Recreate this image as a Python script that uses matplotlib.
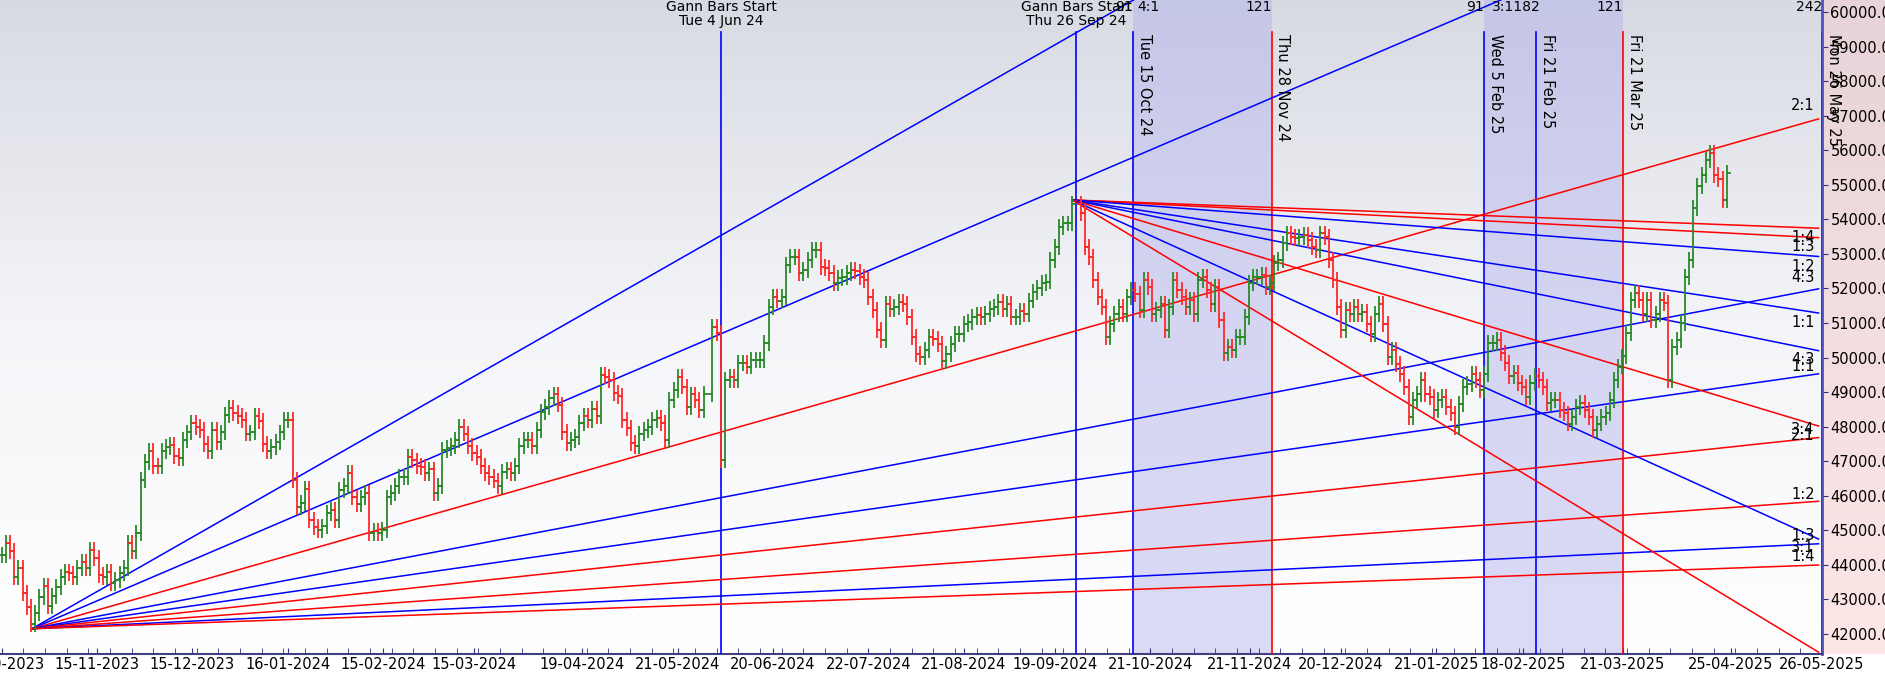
import numpy as np
import pandas as pd
import matplotlib
matplotlib.use("Agg")
import matplotlib.pyplot as plt
from matplotlib.colors import LinearSegmentedColormap
from matplotlib.patches import Rectangle
from matplotlib.ticker import MultipleLocator
import matplotlib.transforms as mtrans

# ---------------- data ----------------
seg_bounds = [("2023-10-16", "2024-01-24"), ("2024-01-25", "2024-05-29"),
              ("2024-05-31", "2024-09-25"), ("2024-09-27", "2025-02-07"),
              ("2025-02-10", "2025-04-24")]
seg1 = [44286, 44630, 44400, 43650, 43900, 43190, 42780, 42300, 42600, 43070, 43400, 42800, 43100, 43360,
        43650, 43800, 43750, 43650, 43900, 44080, 43900, 44430, 44200, 43700, 43650, 43800, 43470, 43560,
        43750, 43900, 44630, 44400, 44920, 46460, 46980, 47300, 46870, 46850, 47300, 47400, 47470, 47150,
        47100, 47620, 47830, 48100, 48000, 47900, 47500, 47300, 47900, 47550, 47830, 48330, 48540, 48400,
        48300, 48200, 47800, 47830, 48300, 48150, 47500, 47300, 47400, 47550, 47830, 48200, 48200, 46450,
        45680, 45800, 46200, 45300, 45100]
seg2 = [45010, 45110, 45500, 45600, 45300, 46170, 46270, 46660, 45950, 45770, 45950, 46080, 44920, 44970,
        44920, 45020, 45950, 46080, 46270, 46540, 46540, 47120, 47020, 46870, 46820, 46660, 46760, 46080,
        46270, 47330, 47380, 47430, 47620, 47990, 47800, 47430, 47230, 47120, 46870, 46660, 46540, 46440,
        46270, 46700, 46760, 46660, 46870, 47430, 47620, 47620, 47430, 47900, 48420, 48560, 48830, 48930,
        48640, 47850, 47520, 47620, 47710, 48110, 48300, 48200, 48500, 48300, 49500, 49450, 49350, 48980,
        48880, 48200, 47960, 47520, 47430, 47800, 47900, 48000, 48200, 48250, 48110, 47620, 48770, 49060,
        49450, 49160, 48560, 48930, 48770, 48480, 48950]
seg3 = [50880, 50700, 47030, 49350, 49440, 49350, 49840, 49840, 49740, 49940, 49940, 49940, 50420, 51460,
        51750, 51650, 51750, 52680, 52920, 52920, 52440, 52540, 52820, 53110, 53110, 52630, 52590, 52440,
        52150, 52300, 52340, 52440, 52540, 52490, 52340, 52250, 51750, 51380, 50790, 50500, 51560, 51410,
        51460, 51600, 51560, 51170, 50590, 50110, 50010, 50210, 50590, 50550, 50400, 49910, 50110, 50400,
        50690, 50690, 50980, 51020, 51170, 51220, 51170, 51270, 51410, 51460, 51600, 51410, 51560, 51170,
        51170, 51360, 51270, 51650, 51900, 52000, 52150, 52200, 52820, 53210, 53780, 53880, 53880, 54450]
seg4 = [54180, 53200, 52900, 52240, 51760, 51470, 50590, 50970, 51270, 51470, 51270, 51760, 51950, 51850,
        51370, 52240, 52050, 51270, 51370, 51560, 50800, 51470, 52240, 51950, 51760, 51470, 51660, 51270,
        52240, 52340, 51950, 51560, 52050, 51080, 50130, 50300, 50210, 50590, 50590, 51180, 52150, 52340,
        52340, 52390, 52050, 52150, 52730, 52820, 53300, 53590, 53500, 53450, 53500, 53550, 53400, 53210,
        53110, 53590, 53500, 52820, 52240, 51470, 50800, 51370, 51270, 51470, 51270, 51320, 50970, 50690,
        51270, 51560, 50970, 50020, 50210, 49820, 49530, 49150, 48280, 48760, 48950, 49340, 48950, 48860,
        48470, 48760, 48860, 48570, 48380, 47990, 48660, 49150, 49240, 49530, 49340, 49050, 49530, 50420,
        50420]
seg5 = [50520, 50130, 49840, 49460, 49550, 49260, 49150, 48860, 49260, 49460, 49360, 49150, 48680, 48770,
        48770, 48470, 48380, 48090, 48280, 48570, 48680, 48470, 48280, 47900, 48090, 48280, 48380, 48770,
        49360, 49740, 50030, 50700, 51670, 51860, 51670, 51270, 51670, 51080, 51270, 51670, 51570, 49340,
        50310, 50500, 50990, 52330, 52820, 54330, 54960, 55270, 55720, 55920, 55270, 55170, 54560, 55340]
segments = [seg1, seg2, seg3, seg4, seg5]
wick = 230

tick_dates = ["2023-10-16", "2023-11-15", "2023-12-15", "2024-01-16", "2024-02-15", "2024-03-15",
              "2024-04-19", "2024-05-21", "2024-06-20", "2024-07-22", "2024-08-21", "2024-09-19",
              "2024-10-21", "2024-11-21", "2024-12-20", "2025-01-21", "2025-02-18", "2025-03-21",
              "2025-04-25", "2025-05-26"]

# Gann fans
up_origin = ("2023-10-25", 42150)
up_unit = 17.9
up_ratios = [4, 3, 2, 4/3, 1, 3/4, 1/2, 1/3, 1/4]
up_colors = ["blue", "blue", "red", "blue", "blue", "red", "red", "blue", "red"]
dn_origin = ("2024-09-25", 54560)
dn_unit = 19.0
dn_ratios = [1/4, 1/3, 1/2, 1, 4/3, 2, 3, 4]
dn_colors = ["red", "red", "blue", "blue", "blue", "red", "blue", "red"]

right_labels = ["2:1", "1:4", "1:3", "1:2", "4:3", "1:1", "4:3", "1:1", "3:4", "2:1", "1:2", "1:3", "3:1", "1:4"]
right_label_prices = [57280, 53470, 53200, 52630, 52310, 51000, 49930, 49740, 47930, 47730, 46050, 44850, 44510, 44230]

vlines = [("2024-06-04", "blue", None), ("2024-09-26", "blue", None), ("2024-10-15", "blue", "Tue 15 Oct 24"),
          ("2024-11-28", "red", "Thu 28 Nov 24"), ("2025-02-05", "blue", "Wed 5 Feb 25"),
          ("2025-02-21", "blue", "Fri 21 Feb 25"), ("2025-03-21", "red", "Fri 21 Mar 25"),
          ("2025-05-26", "#3030c0", "Mon 26 May 25")]
bands = [("2024-10-15", "2024-11-28"), ("2025-02-05", "2025-03-21")]
# (date, text, horizontal alignment)
top_texts = [("2024-06-04", "Gann Bars Start\nTue 4 Jun 24", "center"),
             ("2024-09-26", "Gann Bars Start\nThu 26 Sep 24", "center"),
             ("2024-10-15", "91", "right"), ("2024-10-16", "4:1", "left"), ("2024-11-28", "121", "right"),
             ("2025-02-05", "91", "right"), ("2025-02-24", "3:1182", "right"),
             ("2025-03-21", "121", "right"), ("2025-05-26", "242", "right")]

# ---------------- helpers ----------------
bdays = pd.bdate_range("2023-10-16", "2025-07-31")
def idx(d):
    return bdays.get_loc(pd.Timestamp(d))

xs, cl = [], []
for (a, b), vals in zip(seg_bounds, segments):
    xs.extend(np.linspace(idx(a), idx(b), len(vals)))
    cl.extend(vals)
xs = np.array(xs); cl = np.array(cl, float)
op = np.concatenate([[cl[0]], cl[:-1]])
hi = np.maximum(op, cl) + wick
lo = np.minimum(op, cl) - wick

fig = plt.figure(figsize=(18.85, 6.77), dpi=100)
fig.patch.set_facecolor("white")
L, R, B, T = 0.0, 0.9666, 0.034, 1.0
bgax = fig.add_axes([R, B, 1 - R, T - B], zorder=-5)
bgax.axis("off")
pcmap = LinearSegmentedColormap.from_list("pk", ["#fde6e6", "#e8d4d8"])
bgax.imshow(np.linspace(0, 1, 64).reshape(-1, 1), cmap=pcmap, extent=[0, 1, 0, 1],
            aspect="auto", origin="lower")
ax = fig.add_axes([L, B, R - L, T - B])
ax.patch.set_alpha(0)
XMIN, XMAX = -0.35, 419.2
ax.set_xlim(XMIN, XMAX)
ax.set_ylim(41420, 60347)

cmap = LinearSegmentedColormap.from_list("bg", ["#ffffff", "#f4f5f8", "#d8dae3"])
ax.imshow(np.linspace(0, 1, 256).reshape(-1, 1), cmap=cmap, extent=[0, 1, 0, 1],
          transform=ax.transAxes, aspect="auto", origin="lower", zorder=0)

for a, b in bands:
    ax.axvspan(idx(a), idx(b), color="#b0b0ec", alpha=0.45, lw=0, zorder=1)

vtop = 59420
for d, c, lab in vlines:
    x = idx(d)
    ax.plot([x, x], [41420, vtop], color=c, lw=1.2, zorder=3)
    if lab:
        ax.text(x + 0.9, vtop - 50, lab, rotation=270, va="top", ha="left", fontsize=10.5, zorder=6)

trans = mtrans.blended_transform_factory(ax.transData, ax.transAxes)
for d, t, ha in top_texts:
    ax.text(idx(d), 1.0, t, ha=ha, va="top", fontsize=10, transform=trans, zorder=6,
            linespacing=1.0, multialignment="center")

# fans
x0 = idx(up_origin[0])
for r, c in zip(up_ratios, up_colors):
    ax.plot([x0, XMAX], [up_origin[1], up_origin[1] + r * up_unit * (XMAX - x0)], color=c, lw=1.1, zorder=4)
x1 = idx(dn_origin[0])
for r, c in zip(dn_ratios, dn_colors):
    ax.plot([x1, XMAX], [dn_origin[1], dn_origin[1] - r * dn_unit * (XMAX - x1)], color=c, lw=1.1, zorder=4)

for t, p in zip(right_labels, right_label_prices):
    ax.text(415.6, p, t, ha="center", va="center", fontsize=10.5, zorder=6)

# OHLC bars
for x, o, h, l, c in zip(xs, op, hi, lo, cl):
    col = "#2a8a2a" if c >= o else "#ff2a2a"
    ax.plot([x, x], [l, h], color=col, lw=1.3, zorder=5, solid_capstyle="butt")
    ax.plot([x - 0.7, x], [o, o], color=col, lw=1.3, zorder=5)
    ax.plot([x, x + 0.7], [c, c], color=col, lw=1.3, zorder=5)

# axes styling
for s in ["left", "top"]:
    ax.spines[s].set_visible(False)
ax.spines["right"].set_color("#5050c0"); ax.spines["right"].set_linewidth(2)
ax.spines["bottom"].set_color("#404080"); ax.spines["bottom"].set_linewidth(1.5)
ax.yaxis.tick_right()
ax.set_yticks(np.arange(42000, 60001, 1000))
ax.set_yticklabels([f"{v:.2f}" for v in np.arange(42000, 60001, 1000)], fontsize=10.5)
ax.tick_params(axis="y", direction="out", length=4, pad=2, colors="#303080", labelcolor="black")
ax.set_xticks([idx(d) for d in tick_dates])
ax.set_xticklabels([pd.Timestamp(d).strftime("%d-%m-%Y") for d in tick_dates], fontsize=10.5)
ax.xaxis.set_minor_locator(MultipleLocator(5))
ax.tick_params(axis="x", which="both", direction="in", length=4, pad=2, colors="#303080", labelcolor="black")

fig.savefig("out.png", dpi=100)
